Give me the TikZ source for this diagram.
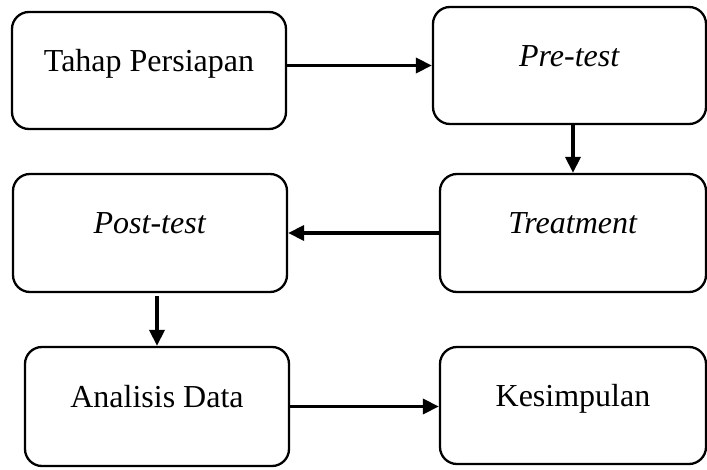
\documentclass[tikz,border=0pt]{standalone}
\usepackage{fontspec}
\setmainfont{Liberation Serif}
\usetikzlibrary{arrows.meta}
\begin{document}
\begin{tikzpicture}[x=1pt,y=-1pt,
  stagebox/.style={draw=black, line width=2.3pt, rounded corners=17pt, fill=white,
    text height=13pt, text depth=11pt, inner sep=0pt,
    font=\fontsize{32}{38}\selectfont},
  flow/.style={line width=3.6pt, -{Triangle[length=16pt,width=15pt]}}]
\useasboundingbox (0,0) rectangle (707,470);
\node[stagebox, minimum width=274pt, minimum height=117pt] (b1) at (149,70.5) {Tahap Persiapan};
\node[stagebox, minimum width=273pt, minimum height=117pt] (b2) at (569.5,65.5) {\textit{Pre-test}};
\node[stagebox, minimum width=266pt, minimum height=118pt] (b3) at (573,233) {\textit{Treatment}};
\node[stagebox, minimum width=274pt, minimum height=118pt] (b4) at (150,233) {\textit{Post-test}};
\node[stagebox, minimum width=264pt, minimum height=119pt] (b5) at (157,406.5) {Analisis Data};
\node[stagebox, minimum width=266pt, minimum height=117pt] (b6) at (573,405.5) {Kesimpulan};
\draw[flow] (b1.east |- b2.west) -- (b2.west);
\draw[flow] (b2.south -| b3.north) -- (b3.north);
\draw[flow] (b3.west) -- (b4.east |- b3.west);
\draw[flow, shorten <=3pt] (b4.south -| b5.north) -- (b5.north);
\draw[flow] (b5.east) -- (b6.west |- b5.east);
\end{tikzpicture}
\end{document}
